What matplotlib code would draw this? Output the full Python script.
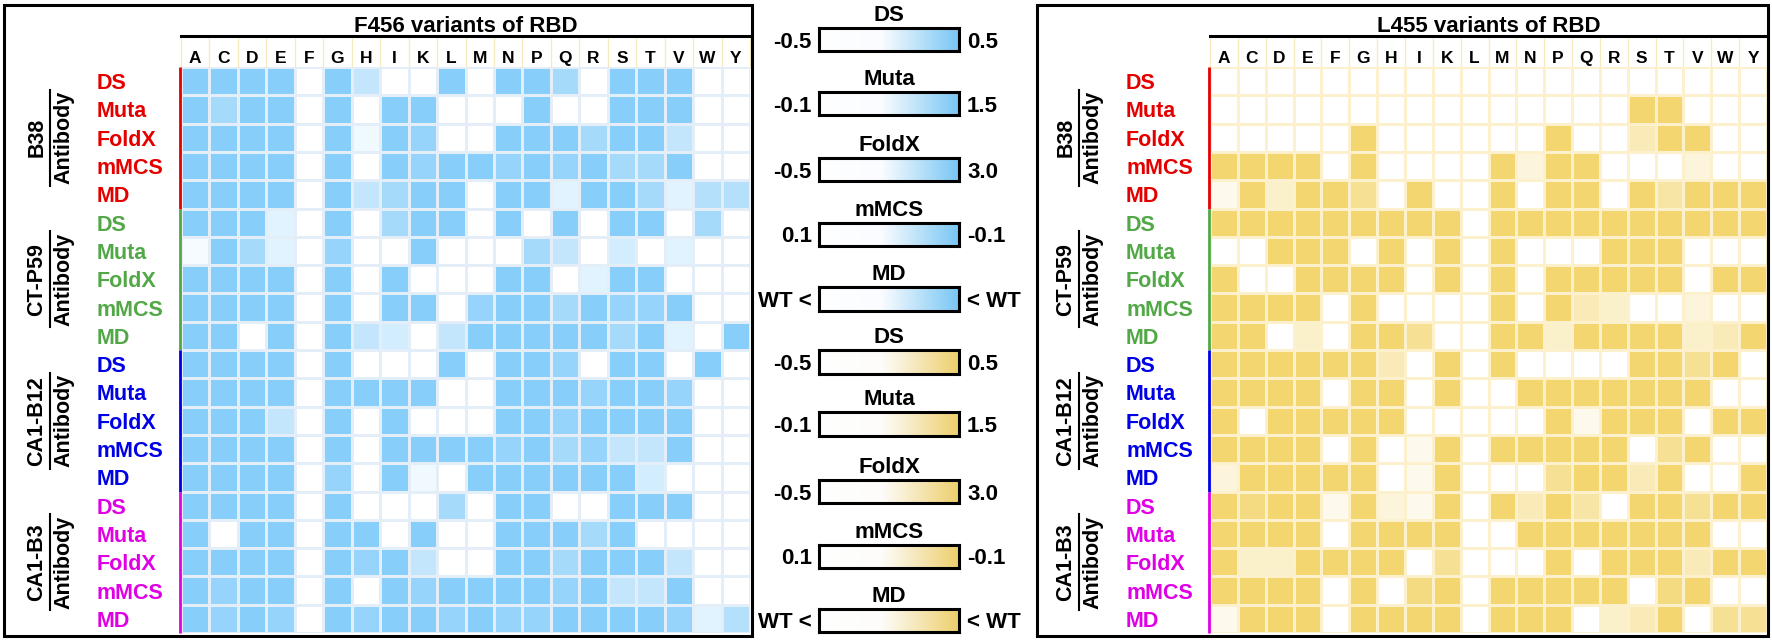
import numpy as np
import matplotlib
matplotlib.use("Agg")
import matplotlib.pyplot as plt
from matplotlib.colors import LinearSegmentedColormap
from matplotlib.patches import Rectangle
from matplotlib.lines import Line2D
from matplotlib.transforms import blended_transform_factory

plt.rcParams['font.family'] = ['Liberation Sans', 'DejaVu Sans']
plt.rcParams['font.weight'] = 'bold'

# ---- data (shade level 0 = white ... 4 = full colour) ----
residues = list("ACDEFGHIKLMNPQRSTVWY")
methods = ["DS", "Muta", "FoldX", "mMCS", "MD"]
antibodies = ["B38", "CT-P59", "CA1-B12", "CA1-B3"]

f456_levels = np.array([
    # B38
    [4, 4, 4, 4, 0, 4, 2, 0, 0, 4, 0, 4, 4, 3, 0, 4, 4, 4, 0, 0],
    [4, 3, 4, 4, 0, 4, 0, 4, 4, 0, 0, 0, 4, 0, 0, 4, 4, 4, 0, 0],
    [4, 4, 4, 4, 0, 4, 0.5, 4, 3.5, 0, 0, 4, 4, 4, 3, 4, 4, 2, 0, 0],
    [4, 4, 4, 4, 0, 4, 0, 4, 3.5, 4, 4, 3.5, 4, 3.5, 4, 3, 3, 4, 0, 0],
    [4, 4, 4, 4, 0, 4, 2, 3, 4, 4, 0, 4, 4, 1, 4, 4, 3, 1, 2.5, 2.5],
    # CT-P59
    [4, 4, 4, 1, 0, 4, 0, 3, 4, 4, 0, 4, 0, 4, 0, 4, 4, 0, 3, 0],
    [0.3, 4, 3, 1, 0, 3.5, 0, 0, 4, 0, 0, 0, 3, 2, 0, 1.5, 0, 1, 0, 0],
    [4, 4, 4, 4, 0, 4, 0, 4, 0, 0, 0, 4, 4, 0, 1, 4, 4, 0, 0, 0],
    [4, 4, 4, 4, 0, 4, 0, 4, 4, 0, 3.5, 4, 4, 3, 4, 3.5, 3.5, 4, 0, 0],
    [4, 4, 0, 4, 0, 4, 2, 1.5, 0, 2, 4, 4, 4, 4, 4, 3, 4, 1, 0, 4],
    # CA1-B12
    [4, 4, 4, 4, 0, 4, 0, 0, 0, 4, 0, 4, 4, 3.5, 0, 4, 4, 0, 4, 0],
    [4, 4, 4, 4, 0, 4, 4, 4, 4, 0, 0, 4, 4, 4, 3.5, 4, 4, 3.5, 0, 0],
    [4, 4, 4, 2, 0, 4, 0, 4, 0, 0, 0, 4, 4, 3.5, 4, 4, 4, 4, 0, 0],
    [4, 4, 4, 4, 0, 4, 0, 4, 4, 4, 4, 3.5, 4, 3, 3.5, 2, 2, 4, 0, 0],
    [4, 4, 4, 4, 0, 3.5, 0, 4, 0.5, 0, 4, 4, 4, 4, 4, 4, 1.5, 0, 0, 0],
    # CA1-B3
    [4, 4, 4, 4, 0, 4, 0, 0, 0, 3, 0, 4, 4, 0, 0, 4, 4, 4, 0, 0],
    [4, 0, 4, 4, 0, 4, 4, 0, 4, 0, 0, 4, 4, 4, 3, 4, 0, 0, 0, 0],
    [4, 4, 4, 4, 0, 4, 3.5, 4, 2, 0, 0, 4, 4, 3, 4, 4, 4, 2, 0, 0],
    [4, 3.5, 4, 4, 0, 4, 0, 4, 3.5, 4, 4, 4, 4, 3.5, 4, 2, 2, 4, 0, 0],
    [4, 3.5, 4, 3.5, 0, 4, 3.5, 4, 4, 3.5, 4, 3.5, 3.5, 4, 4, 4, 4, 3.5, 1, 2.5],
])

l455_levels = np.array([
    # B38
    [0, 0, 0, 0, 0, 0, 0, 0, 0, 0, 0, 0, 0, 0, 0, 0, 0, 0, 0, 0],
    [0, 0, 0, 0, 0, 0, 0, 0, 0, 0, 0, 0, 0, 0, 0, 4, 4, 0, 0, 0],
    [0, 0, 0, 0, 0, 4, 0, 0, 0, 0, 0, 0, 4, 0, 0, 2, 4, 4, 0, 0],
    [4, 4, 4, 4, 0, 4, 0, 0, 0, 0, 4, 1, 4, 4, 0, 0, 0, 1, 0, 0],
    [0.5, 4, 1.5, 4, 4, 3, 0, 4, 0, 0, 4, 0, 4, 4, 0, 4, 2.5, 4, 4, 4],
    # CT-P59
    [4, 4, 4, 4, 4, 4, 4, 4, 4, 0, 4, 4, 4, 4, 4, 4, 4, 4, 4, 4],
    [0, 0, 4, 4, 4, 0, 4, 0, 4, 0, 4, 0, 0, 0, 4, 4, 4, 0, 0, 0],
    [4, 0, 0, 4, 4, 4, 4, 0, 4, 0, 4, 0, 4, 4, 4, 4, 4, 0, 4, 4],
    [4, 4, 4, 4, 0, 4, 0, 0, 0, 0, 4, 0, 4, 2, 1.5, 0, 0, 1, 0, 0],
    [4, 4, 0, 1.5, 0, 4, 4, 3, 0, 0, 4, 4, 1.5, 4, 4, 4, 4, 1.5, 2, 4],
    # CA1-B12
    [4, 4, 4, 4, 4, 4, 2, 0, 4, 0, 4, 0, 0, 0, 0, 4, 4, 3, 4, 0],
    [4, 4, 4, 4, 0, 4, 4, 0, 4, 0, 0, 4, 4, 4, 4, 4, 4, 4, 0, 0],
    [4, 0, 4, 4, 4, 4, 4, 0, 0, 0, 0, 0, 4, 0.5, 4, 4, 4, 0, 4, 4],
    [4, 4, 4, 4, 0, 4, 0, 0.5, 4, 0, 4, 4, 4, 4, 4, 0, 3, 4, 0, 0],
    [1, 4, 4, 4, 4, 4, 0, 0.5, 4, 0, 0, 0, 3, 4, 4, 2, 4, 0, 0, 4],
    # CA1-B3
    [4, 3.5, 4, 4, 0.5, 4, 1, 0.5, 4, 0, 4, 2, 4, 2.5, 0, 4, 4, 3, 4, 4],
    [4, 4, 4, 4, 0, 4, 4, 4, 4, 0, 0, 4, 4, 4, 4, 4, 4, 4, 0, 0],
    [4, 1.5, 1.5, 4, 4, 4, 4, 0, 3, 0, 0, 0, 4, 0, 4, 4, 4, 2, 4, 4],
    [4, 4, 4, 4, 0, 4, 0, 3.5, 4, 0, 4, 4, 4, 4, 4, 0, 3.5, 4, 0, 0],
    [0.5, 4, 4, 4, 0, 4, 4, 4, 4, 0, 4, 4, 4, 0, 1.5, 2, 4, 0, 3, 3],
])

cbar_low = ["-0.5", "-0.1", "-0.5", "0.1", "WT <"]
cbar_high = ["0.5", "1.5", "3.0", "-0.1", "< WT"]

# ---- styles ----
group_colors = ["#e50000", "#52a847", "#0000e6", "#e000e6"]
blue_cells = LinearSegmentedColormap.from_list("bc", ["#ffffff", "#87cefa"])
gold_cells = LinearSegmentedColormap.from_list("gc", ["#ffffff", "#f3d66f"])
blue_bar = LinearSegmentedColormap.from_list(
    "bb", [(0, "#ffffff"), (0.45, "#fafcff"), (1, "#78c6f4")])
gold_bar = LinearSegmentedColormap.from_list(
    "gb", [(0, "#ffffff"), (0.45, "#fdfcfa"), (1, "#eecf6c")])

W, H = 1772, 641
fig = plt.figure(figsize=(W / 100, H / 100), dpi=100)


def px_axes(left, top, right, bottom):
    return fig.add_axes([left / W, 1 - bottom / H, (right - left) / W, (bottom - top) / H])


def draw_panel(levels, heat_box, frame_box, title, cmap, grid_color):
    left, top, right, bottom = heat_box
    ax = px_axes(*heat_box)
    n_rows, n_cols = levels.shape
    ax.pcolormesh(np.arange(n_cols + 1), np.arange(n_rows + 1), levels,
                  cmap=cmap, vmin=0, vmax=4, edgecolors=grid_color, linewidth=0.8)
    ax.set_xlim(0, n_cols)
    ax.set_ylim(n_rows, 0)
    ax.axis('off')
    row_h = (bottom - top) / n_rows

    # column letters + faint header separators
    for j, res in enumerate(residues):
        ax.text(j + 0.5, -4 / row_h, res, ha='center', va='baseline', fontsize=12.5)
    ax.vlines(np.arange(n_cols + 1), -29 / row_h, 0, colors='#f6ebc0', lw=1, clip_on=False)

    # frame, title and rule under title
    fl, ft, fr, fb = frame_box
    fig.add_artist(Rectangle((fl / W, 1 - fb / H), (fr - fl) / W, (fb - ft) / H,
                             transform=fig.transFigure, fill=False, lw=2.2, ec='black'))
    fig.add_artist(Line2D([left / W, fr / W], [1 - 36 / H, 1 - 36 / H],
                          transform=fig.transFigure, color='black', lw=2.2))
    fig.text((left + right) / 2 / W, 1 - 32 / H, title, ha='center', va='baseline', fontsize=16)

    # row labels, group bars and antibody names
    tr = blended_transform_factory(fig.transFigure, ax.transData)
    for g, (name, color) in enumerate(zip(antibodies, group_colors)):
        for k, m in enumerate(methods):
            ax.text((left - 84) / W, 5 * g + k + 0.5, m, transform=tr, color=color,
                    ha='left', va='center_baseline', fontsize=15.5)
        ax.vlines(-0.04, 5 * g, 5 * g + 5, colors=color, lw=2, clip_on=False, zorder=3)
        mid = 5 * g + 2.5
        ax.text((left - 144) / W, mid, name, transform=tr, rotation=90,
                ha='center', va='center', fontsize=15.5)
        ax.text((left - 117) / W, mid, "Antibody", transform=tr, rotation=90,
                ha='center', va='center', fontsize=15.5)
        ax.plot([(left - 131) / W] * 2, [mid - 1.7, mid + 1.7], transform=tr,
                color='black', lw=1.5, clip_on=False)
    return ax


draw_panel(f456_levels, (181, 67, 750, 633), (4, 5, 752, 636),
           "F456 variants of RBD", blue_cells, "#e4eef8")
draw_panel(l455_levels, (1210, 67, 1767, 633), (1037, 5, 1768, 636),
           "L455 variants of RBD", gold_cells, "#fcf1cc")

# ---- colour scales in the middle ----
bar_rows = [(28, 51), (92, 115), (158, 181), (223, 246), (287, 311),
            (350, 374), (412, 436), (480, 503), (545, 568), (609, 632)]
gradient = np.linspace(0, 1, 256)[None, :]
for i, (top, bottom) in enumerate(bar_rows):
    k = i % 5
    cmap = blue_bar if i < 5 else gold_bar
    cax = px_axes(819, top, 959, bottom)
    cax.imshow(gradient, aspect='auto', cmap=cmap, extent=[0, 1, 0, 1])
    cax.set_xticks([])
    cax.set_yticks([])
    for s in cax.spines.values():
        s.set_linewidth(2.2)
    fig.text(889 / W, 1 - (top - 2) / H, methods[k], ha='center', va='bottom', fontsize=16)
    yc = 1 - (top + bottom) / 2 / H
    fig.text(812 / W, yc, cbar_low[k], ha='right', va='center_baseline', fontsize=16)
    fig.text(967 / W, yc, cbar_high[k], ha='left', va='center_baseline', fontsize=16)

fig.savefig("out.png", dpi=100)
